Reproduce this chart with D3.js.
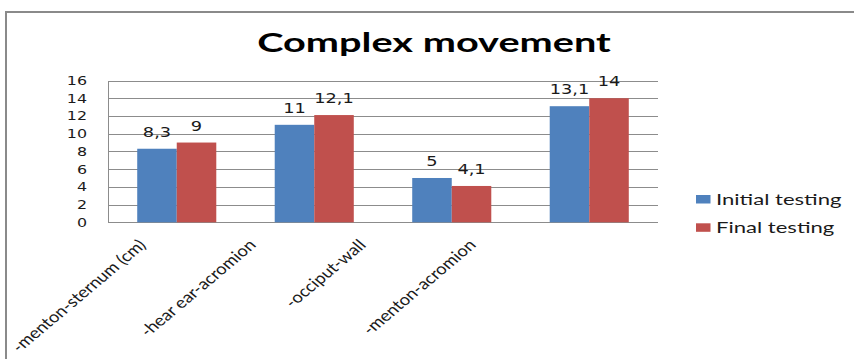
<!DOCTYPE html>
<html>
<head>
<meta charset="utf-8">
<script src="https://cdn.jsdelivr.net/npm/d3@7/dist/d3.min.js"></script>
<style>
  html, body { margin: 0; padding: 0; background: #fff; }
  svg { display: block; }
</style>
</head>
<body>
<svg id="chart" width="854" height="359"></svg>
<script>
// Chart data
const title = "Complex movement";
const categories = ["-menton-sternum (cm)", "-hear ear-acromion", "-occiput-wall", "-menton-acromion"];
const seriesNames = ["Initial testing", "Final testing"];
const initialTesting = [8.3, 11, 5, 13.1];
const finalTesting = [9, 12.1, 4.1, 14];
const yTicks = [0, 2, 4, 6, 8, 10, 12, 14, 16];
const seriesValues = [initialTesting, finalTesting];
const colors = ["#4F81BD", "#C0504D"];

// Horizontal widening applied to the text
const SX = 1.27;
const SX_TITLE = 1.47;
const SX_LEGEND = 1.38;
const SX_CAT = 1.19;

const svg = d3.select("#chart");

// Outer chart frame
svg.append("rect")
  .attr("x", 6).attr("y", 12)
  .attr("width", 900).attr("height", 400)
  .attr("fill", "#fff")
  .attr("stroke", "#8a8a8a").attr("stroke-width", 2);

const plot = { left: 108, right: 658, top: 80.5, bottom: 222.3 };

const x = d3.scaleBand()
  .domain(categories)
  .range([plot.left, plot.right])
  .paddingInner(0.425)
  .paddingOuter(0.2125);

const xs = d3.scaleBand()
  .domain(seriesNames)
  .range([0, x.bandwidth()]);

const y = d3.scaleLinear()
  .domain([0, 16])
  .range([plot.bottom, plot.top]);

// Gridlines
svg.append("g")
  .selectAll("line")
  .data(yTicks)
  .join("line")
  .attr("x1", plot.left).attr("x2", plot.right)
  .attr("y1", d => Math.round(y(d)) + 0.5)
  .attr("y2", d => Math.round(y(d)) + 0.5)
  .attr("stroke", "#8c8c8c").attr("stroke-width", 1);

// Left axis line
svg.append("line")
  .attr("x1", plot.left + 0.5).attr("x2", plot.left + 0.5)
  .attr("y1", Math.round(y(16)) + 0.5).attr("y2", Math.round(y(0)) + 0.5)
  .attr("stroke", "#8c8c8c");

// Y tick labels
svg.append("g")
  .selectAll("text")
  .data(yTicks)
  .join("text")
  .attr("transform", d => `translate(87,${y(d)}) scale(${SX},1)`)
  .attr("text-anchor", "end")
  .attr("dy", "0.36em")
  .attr("font-family", "DejaVu Sans")
  .attr("font-size", 12.5)
  .attr("fill", "#1a1a1a")
  .text(d => d);

// Bars
const groups = svg.append("g")
  .selectAll("g")
  .data(seriesValues)
  .join("g")
  .attr("fill", (d, i) => colors[i]);

groups.each(function(vals, si) {
  const g = d3.select(this);
  g.selectAll("rect")
    .data(vals)
    .join("rect")
    .attr("x", (v, ci) => x(categories[ci]) + xs(seriesNames[si]))
    .attr("width", xs.bandwidth())
    .attr("y", v => y(v))
    .attr("height", v => y(0) - y(v));

  // Value labels
  g.selectAll("text")
    .data(vals)
    .join("text")
    .attr("transform", (v, ci) =>
      `translate(${x(categories[ci]) + xs(seriesNames[si]) + xs.bandwidth() / 2},${y(v) - 12}) scale(${SX},1)`)
    .attr("text-anchor", "middle")
    .attr("font-family", "DejaVu Sans")
    .attr("font-size", 14)
    .attr("fill", "#1a1a1a")
    .text(v => String(v).replace(".", ","));
});

// Category labels, rotated
const labelPos = d3.scalePoint().domain(categories).range([147, 477]);
svg.append("g")
  .selectAll("text")
  .data(categories)
  .join("text")
  .attr("transform", d => `translate(${labelPos(d)},246) scale(${SX_CAT},1) rotate(-45)`)
  .attr("text-anchor", "end")
  .attr("font-family", "Lato")
  .attr("font-size", 15.5)
  .attr("fill", "#1a1a1a")
  .text(d => d);

// Title
svg.append("text")
  .attr("transform", `translate(434,52) scale(${SX_TITLE},1)`)
  .attr("text-anchor", "middle")
  .attr("font-family", "Lato")
  .attr("font-weight", 700)
  .attr("font-size", 27)
  .attr("fill", "#000")
  .text(title);

// Legend
const legend = svg.append("g")
  .selectAll("g")
  .data(seriesNames)
  .join("g")
  .attr("transform", (d, i) => `translate(696,${195 + i * 28.3})`);

legend.append("rect")
  .attr("width", 14.5).attr("height", 8.5)
  .attr("fill", (d, i) => colors[i]);

legend.append("text")
  .attr("transform", `translate(20,10) scale(${SX_LEGEND},1)`)
  .attr("font-family", "Lato")
  .attr("font-size", 16)
  .attr("fill", "#1a1a1a")
  .text(d => d);
</script>
</body>
</html>
